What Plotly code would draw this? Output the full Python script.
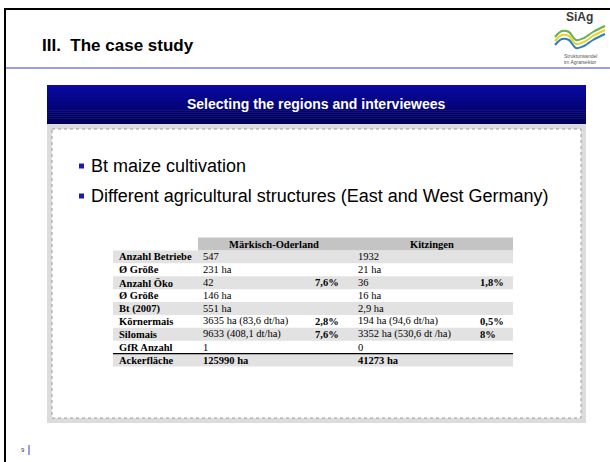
import plotly.graph_objects as go

# ---------------- data ----------------
slide_title = "III.  The case study"
box_title = "Selecting the regions and interviewees"
bullets = ["Bt maize cultivation",
           "Different agricultural structures (East and West Germany)"]
regions = ["Märkisch-Oderland", "Kitzingen"]
row_labels = ["Anzahl Betriebe", "Ø Größe", "Anzahl Öko", "Ø Größe", "Bt (2007)",
              "Körnermais", "Silomais", "GfR Anzahl", "Ackerfläche"]
mo_values = ["547", "231 ha", "42", "146 ha", "551 ha", "3635 ha (83,6 dt/ha)",
             "9633 (408,1 dt/ha)", "1", "125990 ha"]
mo_share = ["", "", "7,6%", "", "", "2,8%", "7,6%", "", ""]
kt_values = ["1932", "21 ha", "36", "16 ha", "2,9 ha", "194 ha (94,6 dt/ha)",
             "3352 ha (530,6 dt /ha)", "0", "41273 ha"]
kt_share = ["", "", "1,8%", "", "", "0,5%", "8%", "", ""]
page_number = "9"

W, H = 610, 462
SANS = "Liberation Sans, Arial, sans-serif"
SERIF = "Liberation Serif, Times New Roman, serif"

fig = go.Figure()
shapes = []
ann = []

def rect(x0, y0, x1, y1, fill, line=None, lw=0, dash=None):
    d = dict(type="rect", x0=x0, y0=y0, x1=x1, y1=y1, fillcolor=fill,
             line=dict(width=lw, color=line or fill), layer="below")
    if dash:
        d["line"]["dash"] = dash
    shapes.append(d)

def hline(x0, x1, y, color, w):
    shapes.append(dict(type="line", x0=x0, x1=x1, y0=y, y1=y,
                       line=dict(color=color, width=w)))

def text(x, y, s, size, color="black", font=SANS, xanchor="left", bold=False):
    ann.append(dict(x=x, y=y, text=("<b>%s</b>" % s) if bold else s,
                    showarrow=False, xanchor=xanchor, yanchor="middle",
                    font=dict(size=size, color=color, family=font)))

# ---------------- slide frame ----------------
hline(5, W, 9, "black", 2)
shapes.append(dict(type="line", x0=5, x1=5, y0=8, y1=H, line=dict(color="black", width=2)))
hline(6, W, 68, "#3a3ad0", 1)
text(40, 45, slide_title, 17, bold=True)

# logo
text(579, 17, "SiAg", 12, color="#3a3a3a", xanchor="center", bold=True)
wave_x = [555, 562, 569, 576, 584, 593, 605]
for dy, col in [(0, "#6ab04c"), (4, "#e6d42a"), (8, "#2f7fc0")]:
    fig.add_trace(go.Scatter(x=wave_x, y=[37 + dy, 31 + dy, 32 + dy, 40 + dy, 38 + dy, 32 + dy, 26 + dy],
                             mode="lines", line=dict(color=col, width=2, shape="spline"),
                             hoverinfo="skip", showlegend=False))
text(580, 56, "Strukturwandel", 5, color="#555", xanchor="center")
text(580, 62, "im Agrarsektor", 5, color="#555", xanchor="center")

# ---------------- content box ----------------
top_c = (10, 10, 165)
bot_c = (0, 0, 88)
n = 20
y0, y1 = 85, 124
for i in range(n):
    t = i / (n - 1)
    c = tuple(int(top_c[k] + (bot_c[k] - top_c[k]) * t) for k in range(3))
    rect(47, y0 + (y1 - y0) * i / n, 586, y0 + (y1 - y0) * (i + 1) / n + 0.5,
         "rgb(%d,%d,%d)" % c)
text(316, 104, box_title, 14, color="white", xanchor="center", bold=True)
rect(47, 124, 586, 423, "#dcdcdc")
rect(52, 129, 581, 418, "white", line="#9a9a9a", lw=1, dash="dot")

for i, b in enumerate(bullets):
    yy = 166 + 30 * i
    rect(79, yy - 2.5, 84, yy + 2.5, "#1c1ca8")
    text(89, yy, b, 18)

# ---------------- table ----------------
tx0, tx1 = 113, 513
c_label, c_mo, c_mo_s, c_kt, c_kt_s = 117, 201, 341, 356, 478
col_split = 350
fs = 10.5
row_h = 12.9
y_head = 244
rect(198, y_head - row_h / 2, tx1, y_head + row_h / 2, "#c4c4c4")
text((198 + col_split) / 2, y_head, regions[0], fs, font=SERIF, xanchor="center", bold=True)
text((col_split + tx1) / 2, y_head, regions[1], fs, font=SERIF, xanchor="center", bold=True)

for i, lab in enumerate(row_labels):
    yy = y_head + row_h * (i + 1)
    if i % 2 == 0:
        rect(tx0, yy - row_h / 2, tx1, yy + row_h / 2, "#e2e2e2")
    last = i == len(row_labels) - 1
    text(c_label, yy, lab, fs, font=SERIF, bold=True)
    text(c_mo, yy, mo_values[i], fs, font=SERIF, bold=last)
    text(c_kt, yy, kt_values[i], fs, font=SERIF, bold=last)
    if mo_share[i]:
        text(c_mo_s, yy, mo_share[i], fs, font=SERIF, xanchor="right", bold=True)
    if kt_share[i]:
        text(c_kt_s, yy, kt_share[i], fs, font=SERIF, bold=True)
    if last:
        hline(tx0, tx1, yy - row_h / 2, "black", 1.3)

# page number
text(23, 450, page_number, 6, color="#333", xanchor="center")
shapes.append(dict(type="line", x0=29, x1=29, y0=445, y1=455, line=dict(color="#3a3ad0", width=1)))

fig.update_layout(
    width=W, height=H, margin=dict(l=0, r=0, t=0, b=0),
    paper_bgcolor="white", plot_bgcolor="white",
    xaxis=dict(range=[0, W], visible=False, fixedrange=True),
    yaxis=dict(range=[H, 0], visible=False, fixedrange=True),
    shapes=shapes, annotations=ann, showlegend=False,
)
fig.write_html("out.html", config={"displayModeBar": False},
               post_script="document.body.style.margin='0';document.body.style.overflow='hidden';")
